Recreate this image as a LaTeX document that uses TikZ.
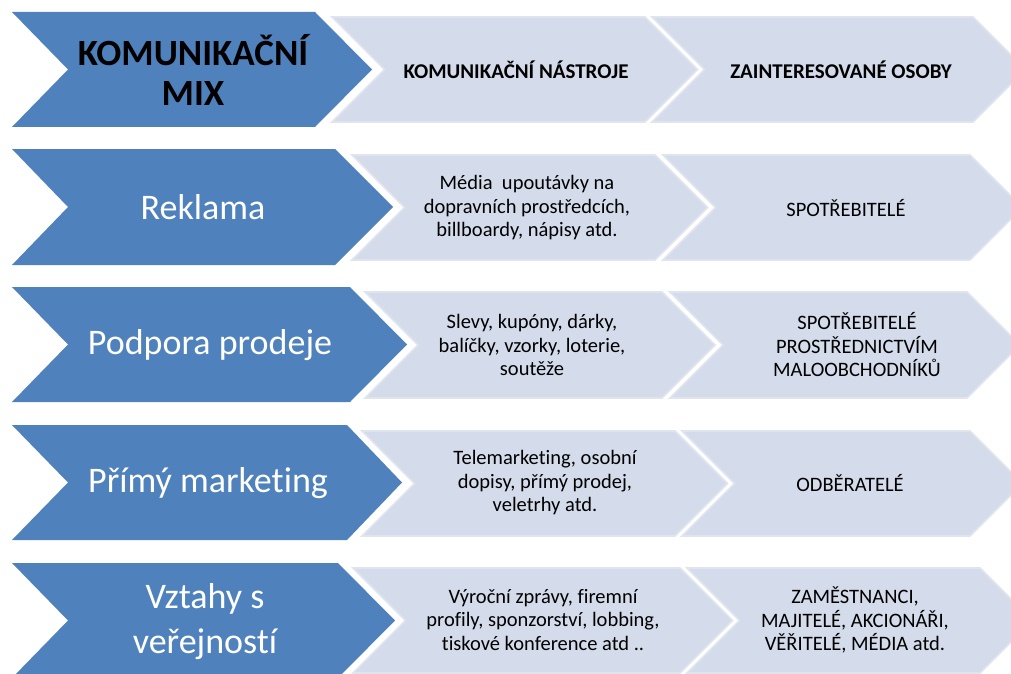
\documentclass[tikz,border=0pt]{standalone}
\usepackage{fontspec}
\setmainfont{Carlito}[Ligatures=NoCommon]
\definecolor{blueA}{HTML}{4F81BD}
\definecolor{lightA}{HTML}{D4DBEA}
\definecolor{lightEdge}{HTML}{DFE4EF}
\newcommand\bluechev[4]{% top, bottom, corner x, tip x
  \fill[blueA] (12,#1) -- (#3,#1) -- (#4,{(#1+#2)/2}) -- (#3,#2) -- (12,#2) -- (68,{(#1+#2)/2}) -- cycle;}
\newcommand\lightchev[4]{% top, bottom, left x, corner x
  \filldraw[lightchev] (#3,#1) -- (#4,#1) -- ({#4+(#2-#1)/2},{(#1+#2)/2}) -- (#4,#2) -- (#3,#2) -- ({#3+(#2-#1)/2},{(#1+#2)/2}) -- cycle;}
\tikzset{
  lightchev/.style={fill=lightA, draw=lightEdge, line width=1.6pt, line join=miter},
  bluetxt/.style={text=white, font=\fontsize{36}{45}\selectfont, align=center, inner sep=0pt},
  bigbold/.style={text=black, font=\fontsize{37}{40}\selectfont\bfseries, align=center, inner sep=0pt},
  headtxt/.style={text=black, font=\fontsize{21}{25}\selectfont\bfseries, align=center, inner sep=0pt},
  smalltxt/.style={text=black, font=\fontsize{20.5}{23.5}\selectfont, align=center, inner sep=0pt}
}
\begin{document}
\begin{tikzpicture}[x=1pt, y=-1pt]
\useasboundingbox (0,0) rectangle (1011,674);
\clip (0,0) rectangle (1011,674);
\fill[white] (0,0) rectangle (1011,674);
% row 1
\bluechev{12}{127}{315}{372}
\lightchev{17}{122}{332}{645}
\lightchev{17}{122}{652}{973}
\node[bigbold] (r1a) at (193,70) {KOMUNIKAČNÍ\\MIX};
\node[headtxt] (r1b) at (516,70) {KOMUNIKAČNÍ NÁSTROJE};
\node[headtxt] (r1c) at (841,70) {ZAINTERESOVANÉ OSOBY};
% row 2
\bluechev{149}{265}{335}{393}
\lightchev{155}{260}{352}{655}
\lightchev{155}{260}{663}{970}
\node[bluetxt] (r2a) at (203,207) {Reklama};
\node[smalltxt] (r2b) at (527,208) {Média\ \ upoutávky na\\dopravních prostředcích,\\billboardy, nápisy atd.};
\node[smalltxt] (r2c) at (846,208) {SPOTŘEBITELÉ};
% row 3
\bluechev{287}{402}{350}{407}
\lightchev{292}{398}{365}{662}
\lightchev{292}{398}{670}{967}
\node[bluetxt] (r3a) at (210,345) {Podpora prodeje};
\node[smalltxt] (r3b) at (532,345) {Slevy, kupóny, dárky,\\balíčky, vzorky, loterie,\\soutěže};
\node[smalltxt] (r3c) at (857,345) {SPOTŘEBITELÉ\\PROSTŘEDNICTVÍM\\MALOOBCHODNÍKŮ};
% row 4
\bluechev{425}{540}{347}{402}
\lightchev{431}{536}{362}{675}
\lightchev{431}{536}{682}{970}
\node[bluetxt] (r4a) at (208,483) {Přímý marketing};
\node[smalltxt] (r4b) at (545,483) {Telemarketing, osobní\\dopisy, přímý prodej,\\veletrhy atd.};
\node[smalltxt] (r4c) at (850,483) {ODBĚRATELÉ};
% row 5
\bluechev{563}{678}{338}{395}
\lightchev{568}{673}{353}{680}
\lightchev{568}{673}{687}{980}
\node[bluetxt] (r5a) at (205,622) {Vztahy s\\veřejností};
\node[smalltxt] (r5b) at (543,620) {Výroční zprávy, firemní\\profily, sponzorství, lobbing,\\tiskové konference atd ..};
\node[smalltxt] (r5c) at (855,620) {ZAMĚSTNANCI,\\MAJITELÉ, AKCIONÁŘI,\\VĚŘITELÉ, MÉDIA atd.};
\end{tikzpicture}
\end{document}
